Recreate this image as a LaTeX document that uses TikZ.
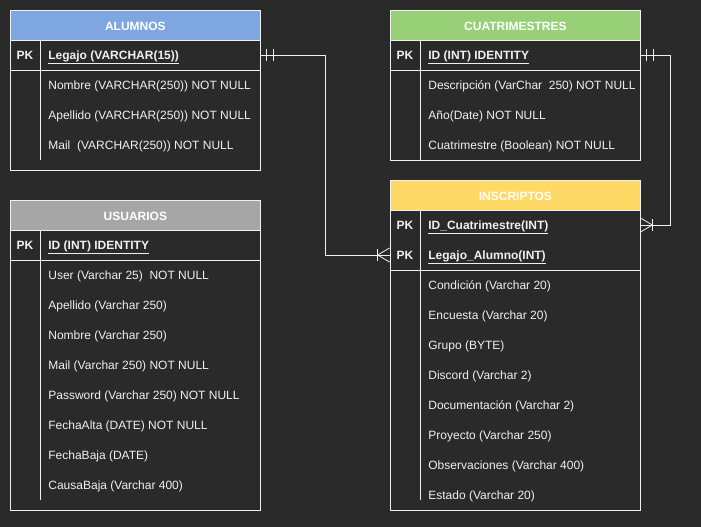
\documentclass[tikz,border=0pt]{standalone}
\usepackage{fontspec}
\setmainfont{Liberation Sans}
\definecolor{bg}{HTML}{2A2A2A}
\definecolor{linec}{HTML}{F0F0F0}
\definecolor{txt}{HTML}{F0F0F0}
\definecolor{hblue}{HTML}{7EA6E0}
\definecolor{hgreen}{HTML}{97D077}
\definecolor{hgray}{HTML}{A6A6A6}
\definecolor{hyellow}{HTML}{FFD966}
\newcommand\myfs{\fontsize{12}{14}\selectfont}
\tikzset{
  hdr/.style={draw=linec, fill=#1, minimum width=250, minimum height=30, anchor=north west, inner sep=0, text height=9.5pt, text depth=0pt, font=\myfs\bfseries, text=white},
  tbox/.style={draw=linec, line width=0.8pt},
  fld/.style={anchor=base west, inner sep=0, text=txt, font=\myfs, yshift=-4.3pt},
  keyf/.style={fld, font=\myfs\bfseries},
  pklab/.style={anchor=base, inner sep=0, text=txt, font=\myfs\bfseries, yshift=-4.3pt},
  rowbox/.style={minimum width=250, minimum height=30, inner sep=0},
  conn/.style={draw=linec, line width=0.8pt},
}
\begin{document}
\begin{tikzpicture}[x=1pt,y=-1pt,line width=0.8pt,font=\myfs]
\fill[bg] (0,0) rectangle (701,527);
\useasboundingbox (0,0) rectangle (701,527);

% ALUMNOS
\draw[tbox] (10,40) rectangle (260,170);
\node[hdr=hblue] (alh) at (10,10) {ALUMNOS};
\draw[tbox] (10,70) -- (260,70);
\draw[tbox] (40,40) -- (40,160);
\node[rowbox] (alk) at (135,55) {};
\node[pklab] (alpk) at (25,55) {PK};
\node[keyf] (al1) at (48,55) {\underline{Legajo (VARCHAR(15))}};
\node[fld] (al2) at (48,85) {Nombre (VARCHAR(250)) NOT NULL};
\node[fld] (al3) at (48,115) {Apellido (VARCHAR(250)) NOT NULL};
\node[fld] (al4) at (48,145) {Mail\ \ (VARCHAR(250)) NOT NULL};

% CUATRIMESTRES
\draw[tbox] (390,40) rectangle (640,160);
\node[hdr=hgreen] (cuh) at (390,10) {CUATRIMESTRES};
\draw[tbox] (390,70) -- (640,70);
\draw[tbox] (420,40) -- (420,160);
\node[rowbox] (cuk) at (515,55) {};
\node[pklab] (cupk) at (405,55) {PK};
\node[keyf] (cu1) at (428,55) {\underline{ID (INT) IDENTITY}};
\node[fld] (cu2) at (428,85) {Descripción (VarChar\ \ 250) NOT NULL};
\node[fld] (cu3) at (428,115) {Año(Date) NOT NULL};
\node[fld] (cu4) at (428,145) {Cuatrimestre (Boolean) NOT NULL};

% USUARIOS
\draw[tbox] (10,230) rectangle (260,510);
\node[hdr=hgray] (ush) at (10,200) {USUARIOS};
\draw[tbox] (10,260) -- (260,260);
\draw[tbox] (40,230) -- (40,500);
\node[pklab] (uspk) at (25,245) {PK};
\node[keyf] (us1) at (48,245) {\underline{ID (INT) IDENTITY}};
\node[fld] (us2) at (48,275) {User (Varchar 25)\ \ NOT NULL};
\node[fld] (us3) at (48,305) {Apellido (Varchar 250)};
\node[fld] (us4) at (48,335) {Nombre (Varchar 250)};
\node[fld] (us5) at (48,365) {Mail (Varchar 250) NOT NULL};
\node[fld] (us6) at (48,395) {Password (Varchar 250) NOT NULL};
\node[fld] (us7) at (48,425) {FechaAlta (DATE) NOT NULL};
\node[fld] (us8) at (48,455) {FechaBaja (DATE)};
\node[fld] (us9) at (48,485) {CausaBaja (Varchar 400)};

% INSCRIPTOS
\draw[tbox] (390,210) rectangle (640,510);
\node[hdr=hyellow] (inh) at (390,180) {INSCRIPTOS};
\draw[tbox] (390,270) -- (640,270);
\draw[tbox] (420,210) -- (420,500);
\node[rowbox] (ina) at (515,225) {};
\node[rowbox] (inb) at (515,255) {};
\node[pklab] (inpk1) at (405,225) {PK};
\node[pklab] (inpk2) at (405,255) {PK};
\node[keyf] (in1) at (428,225) {\underline{ID\_Cuatrimestre(INT)}};
\node[keyf] (in2) at (428,255) {\underline{Legajo\_Alumno(INT)}};
\node[fld] (in3) at (428,285) {Condición (Varchar 20)};
\node[fld] (in4) at (428,315) {Encuesta (Varchar 20)};
\node[fld] (in5) at (428,345) {Grupo (BYTE)};
\node[fld] (in6) at (428,375) {Discord (Varchar 2)};
\node[fld] (in7) at (428,405) {Documentación (Varchar 2)};
\node[fld] (in8) at (428,435) {Proyecto (Varchar 250)};
\node[fld] (in9) at (428,465) {Observaciones (Varchar 400)};
\node[fld] (in10) at (428,495) {Estado (Varchar 20)};

% Connector ALUMNOS -> INSCRIPTOS
\draw[conn] (alk.east) -- ++(65,0) |- (inb.west);
\draw[conn] ([xshift=6pt]alk.east) ++(0,-6) -- ++(0,12);
\draw[conn] ([xshift=13pt]alk.east) ++(0,-6) -- ++(0,12);
\draw[conn] ([xshift=-12pt]inb.west) ++(0,-6) -- ++(0,12);
\draw[conn] ([yshift=7pt]inb.west) -- ([xshift=-12pt]inb.west) -- ([yshift=-7pt]inb.west);

% Connector CUATRIMESTRES -> INSCRIPTOS
\draw[conn] (cuk.east) -- ++(30,0) |- (ina.east);
\draw[conn] ([xshift=6pt]cuk.east) ++(0,-6) -- ++(0,12);
\draw[conn] ([xshift=13pt]cuk.east) ++(0,-6) -- ++(0,12);
\draw[conn] ([xshift=12pt]ina.east) ++(0,-6) -- ++(0,12);
\draw[conn] ([yshift=7pt]ina.east) -- ([xshift=12pt]ina.east) -- ([yshift=-7pt]ina.east);
\end{tikzpicture}
\end{document}
